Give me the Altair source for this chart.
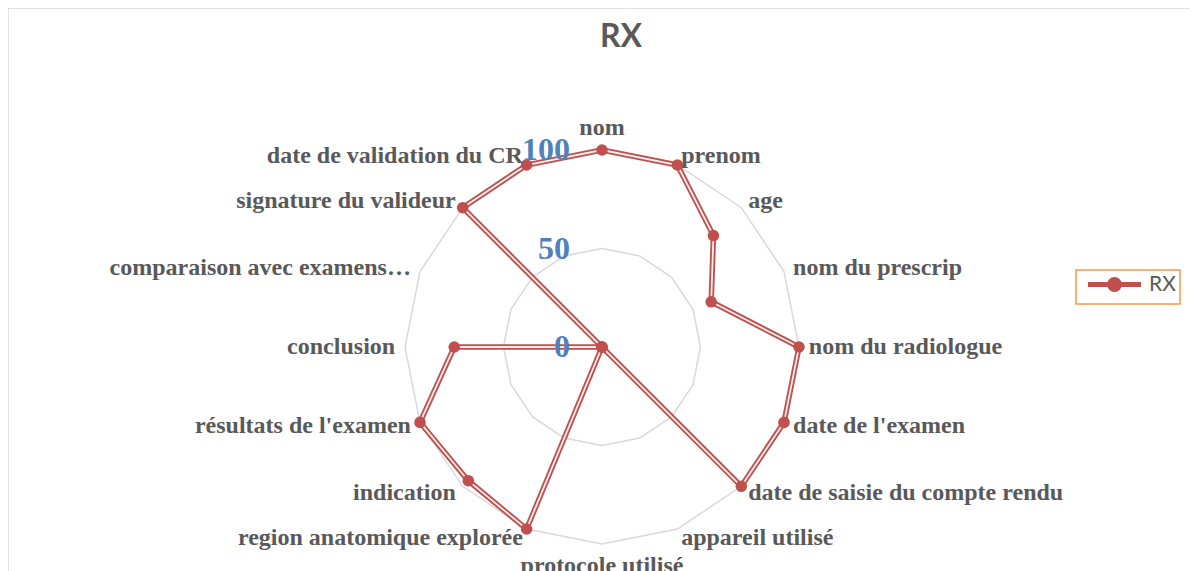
import altair as alt
import pandas as pd

categories = [
    "nom", "prenom", "age", "nom du prescrip", "nom du radiologue",
    "date de l'examen", "date de saisie du compte rendu", "appareil utilisé",
    "protocole utilisé", "region anatomique explorée", "indication",
    "résultats de l'examen", "conclusion", "comparaison avec examens…",
    "signature du valideur", "date de validation du CR",
]
values = [100, 100, 80, 60, 100, 100, 100, 0, 0, 100, 96, 100, 75, 0, 100, 100]
series_name = "RX"
grid_levels = [50, 100]
tick_values = [0, 50, 100]
title_text = "RX"

n = len(categories)
series_df = pd.DataFrame({
    "k": list(range(n + 1)),
    "category": categories + [categories[0]],
    "value": values + [values[0]],
    "series": series_name,
})
points_df = series_df.iloc[:n].copy()
grid_df = pd.DataFrame([{"level": L, "k": k, "value": L} for L in grid_levels for k in range(n + 1)])
labels_df = pd.DataFrame({"k": list(range(n)), "category": categories})
ticks_df = pd.DataFrame({"tick": tick_values, "label": [str(t) for t in tick_values]})

W, H = 1192, 575
K = 1.97  # pixels per value unit
CX, CY = 594, 339
XD = [-CX / K, (W - CX) / K]
YD = [-(H - CY) / K, CY / K]

xs = alt.Scale(domain=XD, nice=False, zero=False)
ys = alt.Scale(domain=YD, nice=False, zero=False)

def polar(ch):
    return ch.transform_calculate(
        ang=f"datum.k*2*PI/{n}",
        px="datum.value*sin(datum.ang)",
        py="datum.value*cos(datum.ang)",
    )

X = alt.X("px:Q", scale=xs, axis=None)
Y = alt.Y("py:Q", scale=ys, axis=None)

grid = polar(alt.Chart(grid_df)).mark_line(color="#d9d9d9", strokeWidth=1.5).encode(
    x=X, y=Y, detail="level:N", order="k:Q")

legend = alt.Legend(
    title=None, orient="none", legendX=1068, legendY=262,
    symbolType="M-5.3,0H5.3M-1,0A1,1,0,1,1,1,0A1,1,0,1,1,-1,0Z",
    symbolSize=100, symbolStrokeWidth=5, symbolFillColor="#c0504d",
    symbolStrokeColor="#c0504d", symbolOffset=24, labelOffset=24, labelFontSize=21,
    labelFont="Lato", labelColor="#595959", padding=4,
    strokeColor="#f79646",
)

line_red = polar(alt.Chart(series_df)).mark_line(strokeWidth=5.5).encode(
    x=X, y=Y, order="k:Q",
    color=alt.Color("series:N", scale=alt.Scale(domain=[series_name], range=["#c0504d"]), legend=legend),
)
line_in = polar(alt.Chart(series_df)).mark_line(strokeWidth=1.8, color="#eeeeee").encode(
    x=X, y=Y, order="k:Q")
pts = polar(alt.Chart(points_df)).mark_circle(size=135, color="#c0504d", opacity=1).encode(x=X, y=Y)

def label_layer(filt, align):
    return alt.Chart(labels_df).transform_calculate(
        ang=f"datum.k*2*PI/{n}",
        s="sin(datum.ang)",
        r="abs(sin(datum.ang)) > 0.05 ? 105 : 111",
        px="datum.r*sin(datum.ang)",
        py="datum.r*cos(datum.ang)",
    ).transform_filter(filt).mark_text(
        align=align, baseline="middle", font="Liberation Serif", fontWeight="bold",
        fontSize=24, color="#595959",
    ).encode(x=X, y=Y, text="category:N")

lab_r = label_layer("datum.s > 0.05", "left")
lab_l = label_layer("datum.s < -0.05", "right")
lab_c = label_layer("abs(datum.s) <= 0.05", "center")

ticks = alt.Chart(ticks_df).transform_calculate(px="0", py="datum.tick").mark_text(
    align="right", baseline="middle", dx=-32, font="Liberation Serif", fontWeight="bold",
    fontSize=32, color="#4f81bd",
).encode(x=X, y=Y, text="label:N")

chart = alt.layer(grid, line_red, line_in, pts, ticks, lab_r, lab_l, lab_c).properties(
    width=W, height=H,
    autosize=alt.AutoSizeParams(type="none"),
    padding={"left": 0, "top": 0, "right": -10, "bottom": -12},
    title=alt.Title(title_text, fontSize=32, font="Lato", fontWeight="bold", color="#595959",
                    anchor="middle", dx=17, dy=50),
).configure_view(stroke="#d9d9d9", strokeWidth=1.5).configure_legend(strokeWidth=1.5)

chart.save("out.html", embed_options={"renderer": "svg", "actions": False})
